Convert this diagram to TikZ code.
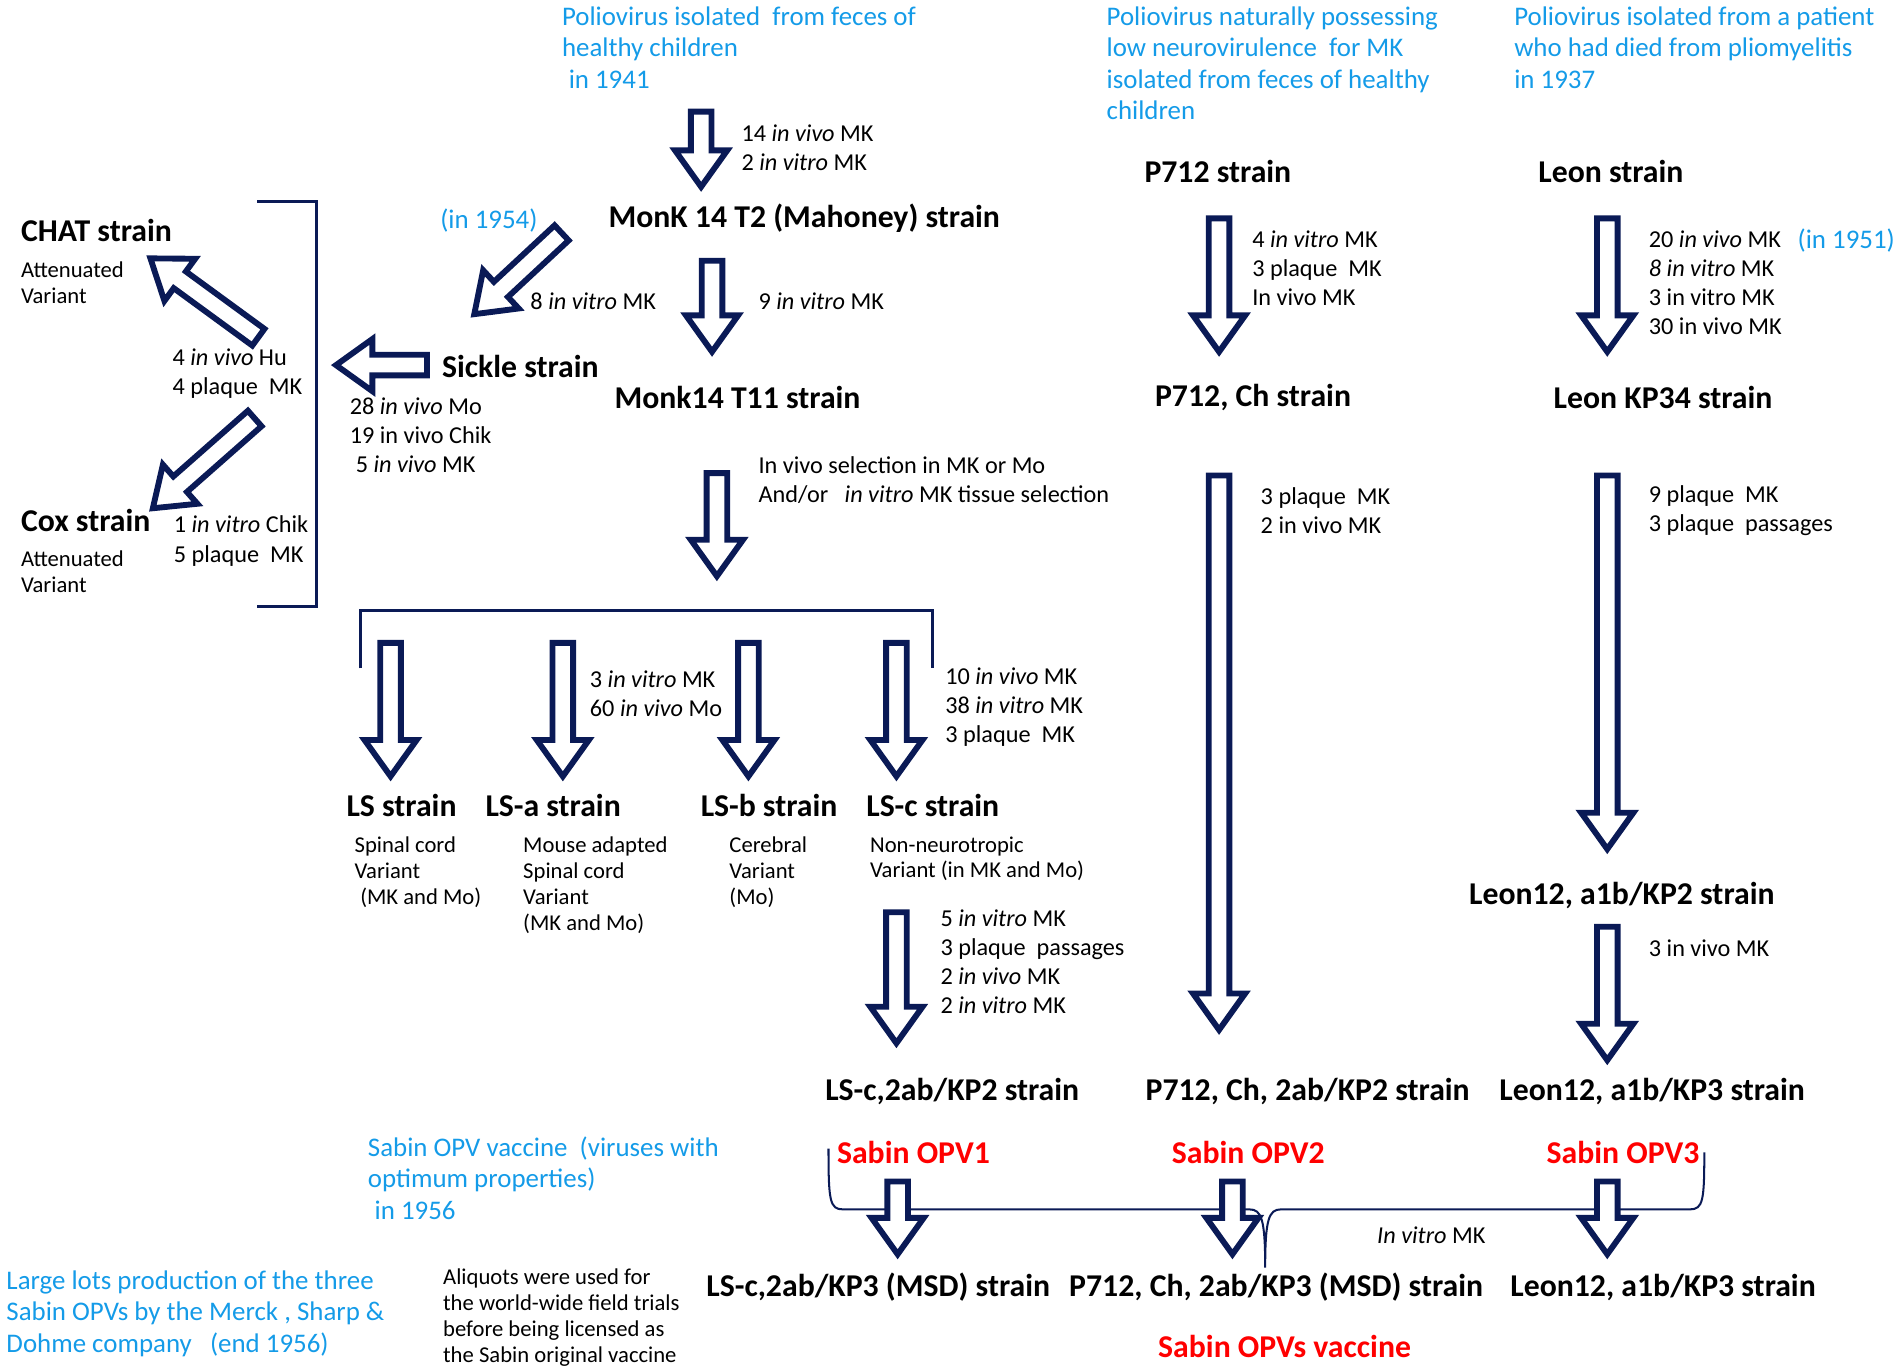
\documentclass[tikz,border=0pt]{standalone}
\usepackage{fontspec}
\setmainfont{Carlito}
\usetikzlibrary{calc}
\definecolor{navy}{RGB}{10,26,86}
\definecolor{skyb}{RGB}{20,155,232}
\definecolor{opvred}{RGB}{255,0,0}
\newcommand{\ivo}{\textit{in vivo}}
\newcommand{\ivt}{\textit{in vitro}}
\newcommand{\fatarrow}[2]{%
  \path #1 coordinate (fa-s) #2 coordinate (fa-e);
  \path ($(fa-e)!18pt!(fa-s)$) coordinate (fa-h);
  \draw[fatarr] ($(fa-s)!5.1pt!90:(fa-e)$) -- ($(fa-h)!5.1pt!90:(fa-e)$)
    -- ($(fa-h)!12.9pt!90:(fa-e)$) -- (fa-e) -- ($(fa-h)!12.9pt!-90:(fa-e)$)
    -- ($(fa-h)!5.1pt!-90:(fa-e)$) -- ($(fa-s)!5.1pt!-90:(fa-e)$) -- cycle;}
\tikzset{
  every node/.append style={inner sep=0pt},
  strain/.style={font=\fontsize{15.7}{18}\selectfont\bfseries},
  opv/.style={strain, text=opvred},
  hist/.style={font=\fontsize{13.3}{15.6}\selectfont, text=skyb, align=left, anchor=west},
  note/.style={font=\fontsize{12}{14.4}\selectfont, align=left, anchor=west},
  variant/.style={font=\fontsize{11.2}{12.8}\selectfont, align=left, anchor=west},
  fatarr/.style={draw=navy, fill=white, line width=2.9pt},
  brk/.style={draw=navy, line width=1.6pt},
  brc/.style={draw=navy, line width=1pt}
}
\begin{document}
\begin{tikzpicture}[x=0.6pt,y=-0.6pt]
\useasboundingbox (0,0) rectangle (1568,1131);
\node[hist] (src1) at (463,39) {Poliovirus isolated\ \ from feces of\\healthy children\\\hspace*{.25em}in 1941};
\node[hist] (src2) at (912,52) {Poliovirus naturally possessing\\low neurovirulence\ \ for MK\\isolated from feces of healthy\\children};
\node[hist] (src3) at (1248,39) {Poliovirus isolated from a patient\\who had died from pliomyelitis\\in 1937};
\node[hist, anchor=center] (y1954) at (403,182) {(in 1954)};
\node[hist, anchor=center] (y1951) at (1522,198) {(in 1951)};
\node[hist] (opvnote) at (303,971) {Sabin OPV vaccine\ \ (viruses with\\optimum properties)\\\hspace*{.25em}in 1956};
\node[hist] (msdnote) at (5,1083) {Large lots production\ of the three\\Sabin OPVs by the Merck , Sharp \&\\Dohme company\ \ \ (end 1956)};

\node[strain] (monkA) at (663,180) {MonK 14 T2 (Mahoney) strain};
\node[strain] (monkB) at (608,328) {Monk14 T11 strain};
\node[strain] (sickle) at (429,302) {Sickle strain};
\node[strain, anchor=west] (chat) at (17,190) {CHAT strain};
\node[strain, anchor=west] (cox) at (17,429) {Cox strain};
\node[strain] (p712) at (1004,141) {P712 strain};
\node[strain] (leon) at (1328,141) {Leon strain};
\node[strain] (p712ch) at (1033,328) {P712, Ch strain};
\node[strain] (leonkp) at (1371,328) {Leon KP34 strain};
\node[strain] (ls) at (331,664) {LS strain};
\node[strain] (lsa) at (456,664) {LS-a strain};
\node[strain] (lsb) at (634,664) {LS-b strain};
\node[strain] (lsc) at (769,664) {LS-c strain};
\node[strain] (leonB) at (1337,738) {Leon12, a1b/KP2 strain};
\node[strain] (lscB) at (785,900) {LS-c,2ab/KP2 strain};
\node[strain] (p712B) at (1078,900) {P712, Ch, 2ab/KP2 strain};
\node[strain] (leonC) at (1362,900) {Leon12, a1b/KP3 strain};
\node[strain] (lscC) at (724,1061) {LS-c,2ab/KP3 (MSD) strain};
\node[strain] (p712C) at (1052,1061) {P712, Ch, 2ab/KP3 (MSD) strain};
\node[strain] (leonD) at (1371,1061) {Leon12, a1b/KP3 strain};
\node[opv] (opv1) at (753,950) {Sabin OPV1};
\node[opv] (opv2) at (1029,950) {Sabin OPV2};
\node[opv] (opv3) at (1338,950) {Sabin OPV3};
\node[opv] (opvs) at (1059,1110) {Sabin OPVs vaccine};

\node[note] (n1) at (611,122) {14 \ivo{} MK\\2 \ivt{} MK};
\node[note] (n2) at (437,248) {8 \ivt{} MK};
\node[note] (n3) at (625,248) {9 \ivt{} MK};
\node[note] (n4) at (142,308) {4 \ivo{} Hu\\4 plaque\ \ MK};
\node[note] (n5) at (288,359) {28 \ivo{} Mo\\19 in vivo Chik\\\hspace*{.25em}5 \ivo{} MK};
\node[note] (n6) at (143,446) {1 \ivt{} Chik\\5 plaque\ \ MK};
\node[note] (n7) at (625,396) {In vivo selection in MK or Mo\\And/or\ \ \ \ivt{} MK tissue selection};
\node[note] (n8) at (1032,221) {4 \ivt{} MK\\3 plaque\ \ MK\\In vivo MK};
\node[note] (n9) at (1359,233) {20 \ivo{} MK\\\textit{8 in vitro} MK\\3 in vitro MK\\30 in vivo MK};
\node[note] (n10) at (1039,421) {3 plaque\ \ MK\\2 in vivo MK};
\node[note] (n11) at (1359,421) {9 plaque\ \ MK\\3 plaque\ \ passages};
\node[note] (n12) at (486,572) {3 \ivt{} MK\\60 \ivo{} Mo};
\node[note] (n13) at (779,583) {10 \ivo{} MK\\38 \ivt{} MK\\3 plaque\ \ MK};
\node[note] (n14) at (775,793) {5 \ivt{} MK\\3 plaque\ \ passages\\2 \ivo{} MK\\2 \ivt{} MK};
\node[note] (n15) at (1359,782) {3 in vivo MK};
\node[note] (n16) at (1135,1018) {\textit{In vitro} MK};

\node[variant] (v1) at (17,233) {Attenuated\\Variant};
\node[variant] (v2) at (17,471) {Attenuated\\Variant};
\node[variant] (v3) at (292,719) {Spinal cord\\Variant\\\hspace*{.25em}(MK and Mo)};
\node[variant] (v4) at (431,730) {Mouse adapted\\Spinal cord\\Variant\\(MK and Mo)};
\node[variant] (v5) at (601,719) {Cerebral\\Variant\\(Mo)};
\node[variant] (v6) at (717,708) {Non-neurotropic\\Variant (in MK and Mo)};
\node[variant] (aliq) at (365,1086) {Aliquots were used for\\the world-wide field trials\\before being licensed as\\the Sabin original vaccine};

\draw[brk] (212,166) -- (261,166) -- (261,500) -- (212,500);
\draw[brk] (297,551) -- (297,503) -- (769,503) -- (769,551);
\draw[brc] (683,947) .. controls (683,990) and (684,997) .. (695,997) -- (1030,997)
  .. controls (1040,997) and (1043,1005) .. (1043,1045)
  .. controls (1043,1005) and (1046,997) .. (1056,997) -- (1393,997)
  .. controls (1404,997) and (1405,990) .. (1405,950);

\fatarrow{(578,92)}{(578,154)}
\fatarrow{(587,215)}{(587,290)}
\fatarrow{(463,192)}{(391,259)}
\fatarrow{(352,301)}{(277,301)}
\fatarrow{(213,278)}{(124,213)}
\fatarrow{(210,345)}{(126,419)}
\fatarrow{(591,390)}{(591,475)}
\foreach \x in {322,464,617,739}{\fatarrow{(\x,530)}{(\x,640)}}
\fatarrow{(739,752)}{(739,860)}
\fatarrow{(1005,180)}{(1005,290)}
\fatarrow{(1005,392)}{(1005,849)}
\fatarrow{(1325,180)}{(1325,290)}
\fatarrow{(1325,392)}{(1325,700)}
\fatarrow{(1325,764)}{(1325,874)}
\foreach \x in {740,1016,1325}{\fatarrow{(\x,974)}{(\x,1034)}}
\end{tikzpicture}
\end{document}
